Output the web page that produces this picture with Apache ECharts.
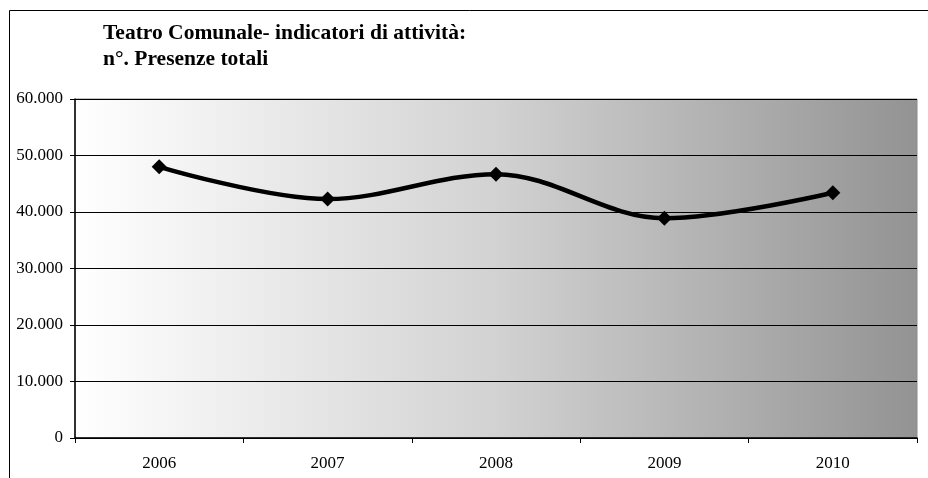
<!DOCTYPE html>
<html>
<head>
<meta charset="utf-8">
<script src="https://cdn.jsdelivr.net/npm/echarts@6/dist/echarts.min.js"></script>
<style>html,body{margin:0;padding:0;background:#fff;}#c{width:928px;height:478px;}</style>
</head>
<body>
<div id="c"></div>
<script>
var titleLines = ['Teatro Comunale- indicatori di attività:', 'n°. Presenze totali'];
var years = ['2006', '2007', '2008', '2009', '2010'];
var presenze = [48000, 42300, 46700, 38900, 43400];
var yTicks = [0, 10000, 20000, 30000, 40000, 50000, 60000];

function fmt(v) {
  return String(v).replace(/\B(?=(\d{3})+(?!\d))/g, '.');
}

var chart = echarts.init(document.getElementById('c'), null, {renderer: 'canvas'});
chart.setOption({
  animation: false,
  backgroundColor: '#ffffff',
  title: {
    text: titleLines.join('\n'),
    left: 98,
    top: 15,
    textStyle: {
      fontFamily: 'Liberation Serif',
      fontWeight: 'bold',
      fontSize: 21.5,
      lineHeight: 26,
      color: '#000'
    }
  },
  graphic: [{
    type: 'rect',
    shape: {x: 9.5, y: 10.5, width: 1000, height: 1000},
    style: {fill: 'none', stroke: '#000', lineWidth: 1},
    silent: true,
    z: -1
  }],
  grid: {
    left: 75, top: 99, right: 11, bottom: 40,
    show: true,
    borderColor: '#8a8a8a',
    borderWidth: 1,
    backgroundColor: {
      type: 'linear', x: 0, y: 0, x2: 1, y2: 0,
      colorStops: [
        {offset: 0, color: '#ffffff'},
        {offset: 0.5, color: '#d2d2d2'},
        {offset: 1, color: '#939393'}
      ]
    }
  },
  xAxis: {
    type: 'category',
    data: years,
    boundaryGap: true,
    axisLine: {lineStyle: {color: '#000', width: 1.5}},
    axisTick: {show: true, length: 5, lineStyle: {color: '#000'}},
    axisLabel: {
      color: '#000', fontFamily: 'Liberation Serif', fontSize: 17, margin: 17
    },
    splitLine: {show: false}
  },
  yAxis: {
    type: 'value',
    min: 0, max: 60000, interval: 10000,
    axisLine: {show: true, lineStyle: {color: '#000', width: 1.5}},
    axisTick: {show: true, length: 5, lineStyle: {color: '#000'}},
    axisLabel: {
      color: '#000', fontFamily: 'Liberation Serif', fontSize: 17, margin: 12,
      formatter: function (v) { return yTicks.indexOf(v) >= 0 ? fmt(v) : ''; }
    },
    splitLine: {show: true, lineStyle: {color: '#000', width: 1}}
  },
  series: [{
    type: 'line',
    data: presenze,
    smooth: 0.35,
    symbol: 'diamond',
    symbolSize: 15,
    lineStyle: {color: '#000', width: 4.5},
    itemStyle: {color: '#000'}
  }]
});
</script>
</body>
</html>
